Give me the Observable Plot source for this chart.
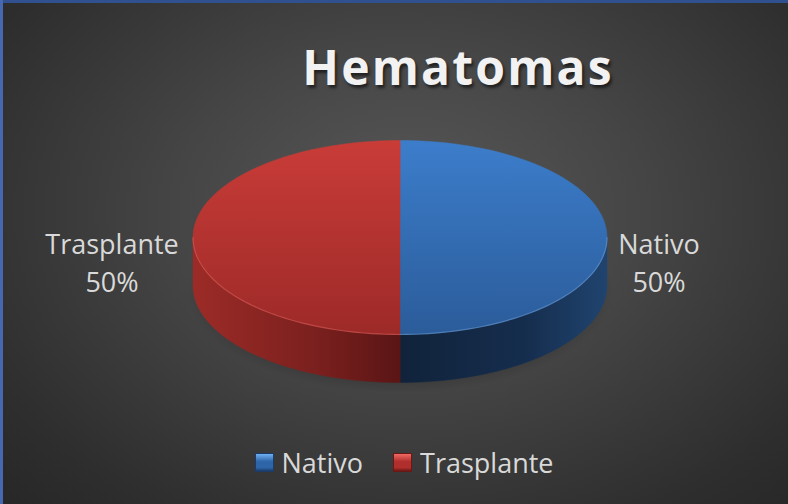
<!DOCTYPE html>
<html>
<head>
<meta charset="utf-8">
<script src="https://cdn.jsdelivr.net/npm/d3@7"></script>
<script src="https://cdn.jsdelivr.net/npm/@observablehq/plot@0.6"></script>
<style>
  html, body { margin: 0; padding: 0; background: #262626; }
  #wrap {
    position: relative; width: 788px; height: 504px; overflow: hidden;
    background: radial-gradient(ellipse 75% 85% at 52% 42%, #585858 0%, #454545 40%, #2e2e2e 80%, #262626 100%);
    font-family: "Open Sans", sans-serif;
  }
  #btop { position: absolute; left: 0; top: 0; width: 788px; height: 3px; background: #30508f; }
  #bleft { position: absolute; left: 0; top: 0; width: 3px; height: 504px; background: #4668b0; }
  #chart { position: absolute; left: 0; top: 0; }
  #title {
    position: absolute; left: 458px; top: 43px; transform: translateX(-50%);
    font-size: 48px; line-height: 48px; font-weight: 700; letter-spacing: 2.2px;
    color: #f2f2f2; white-space: nowrap;
    text-shadow: 2px 3px 3px rgba(0,0,0,0.55);
  }
  #legend {
    position: absolute; left: 0; width: 788px; top: 449px; height: 27px;
    display: flex; justify-content: center; align-items: center;
    font-size: 27px; line-height: 27px; color: #d9d9d9;
    padding-left: 20px; box-sizing: border-box;
  }
  .item { display: flex; align-items: center; margin: 0 15px; }
  .sw { width: 19px; height: 19px; margin-right: 8px; box-sizing: border-box; }
</style>
</head>
<body>
<div id="wrap">
  <div id="title"></div>
  <div id="chart"></div>
  <div id="legend"></div>
  <div id="btop"></div>
  <div id="bleft"></div>
</div>
<script>
// ---- data ----
const title = "Hematomas";
const categories = ["Nativo", "Trasplante"];
const values = [50, 50];
const topColors = [["#3c7dcb", "#2b5c9a"], ["#c93c38", "#9d2a28"]];
const sideColors = [["#11233b", "#152d4d", "#20446f"], ["#9c2b27", "#7a201e", "#5a1515"]];
const rimColors = ["#6fa3e0", "#e0605b"];
const swatchColors = [["#6eb0f2", "#2e64a8", "#1b3b68"], ["#f06a64", "#b02e2b", "#6a1716"]];

// ---- layout ----
const CX = 399.5, CY = 237, RX = 207, RY = 97, DEPTH = 48 / 97;

document.getElementById("title").textContent = title;

const total = d3.sum(values);
const arcs = d3.pie().sort(null).startAngle(0).endAngle(2 * Math.PI)(values)
  .map((a, i) => ({...a, name: categories[i], i, pct: d3.format(".0%")(a.value / total)}));

const STEPS = 180;
function arcPoints(a0, a1, dy = 0) {
  const n = Math.max(2, Math.ceil(STEPS * (Math.abs(a1 - a0) / (2 * Math.PI))));
  return d3.range(n + 1).map(k => {
    const a = a0 + (a1 - a0) * k / n;
    return {x: Math.sin(a), y: -Math.cos(a) + dy};
  });
}

const marks = [];
// gradient defs
marks.push(() => {
  const defs = d3.create("svg:defs");
  arcs.forEach(d => {
    const t = defs.append("linearGradient").attr("id", "top" + d.i).attr("x1", 0).attr("y1", 0).attr("x2", 0).attr("y2", 1);
    t.append("stop").attr("offset", "0%").attr("stop-color", topColors[d.i][0]);
    t.append("stop").attr("offset", "100%").attr("stop-color", topColors[d.i][1]);
    const s = defs.append("linearGradient").attr("id", "side" + d.i).attr("x1", 0).attr("y1", 0).attr("x2", 1).attr("y2", 0);
    s.append("stop").attr("offset", "0%").attr("stop-color", sideColors[d.i][0]);
    s.append("stop").attr("offset", "60%").attr("stop-color", sideColors[d.i][1]);
    s.append("stop").attr("offset", "100%").attr("stop-color", sideColors[d.i][2]);
  });
  const sh = defs.append("radialGradient").attr("id", "shadow");
  sh.append("stop").attr("offset", "70%").attr("stop-color", "rgba(0,0,0,0.35)");
  sh.append("stop").attr("offset", "100%").attr("stop-color", "rgba(0,0,0,0)");
  return defs.node();
});

// soft shadow below the pie
const shadowPts = arcPoints(0, 2 * Math.PI).map(p => ({x: p.x * 1.03, y: p.y * 1.05 + DEPTH + 0.06}));
marks.push(Plot.line(shadowPts, {x: "x", y: "y", fill: "url(#shadow)", stroke: "none", curve: "linear-closed"}));

// side walls (front half only)
arcs.forEach(d => {
  const lo = Math.max(d.startAngle, Math.PI / 2), hi = Math.min(d.endAngle, 3 * Math.PI / 2);
  if (lo >= hi) return;
  const pts = [...arcPoints(lo, hi), ...arcPoints(hi, lo, DEPTH)];
  marks.push(Plot.line(pts, {x: "x", y: "y", fill: `url(#side${d.i})`, stroke: `url(#side${d.i})`, strokeWidth: 0.5, curve: "linear-closed"}));
});
// top faces
arcs.forEach(d => {
  const pts = [{x: 0, y: 0}, ...arcPoints(d.startAngle, d.endAngle)];
  marks.push(Plot.line(pts, {x: "x", y: "y", fill: `url(#top${d.i})`, stroke: `url(#top${d.i})`, strokeWidth: 0.5, curve: "linear-closed"}));
});
// rim highlight on front edge
arcs.forEach(d => {
  const lo = Math.max(d.startAngle, Math.PI / 2), hi = Math.min(d.endAngle, 3 * Math.PI / 2);
  if (lo >= hi) return;
  marks.push(Plot.line(arcPoints(lo, hi), {x: "x", y: "y", stroke: rimColors[d.i], strokeWidth: 1.2, strokeOpacity: 0.55}));
});

// data labels
const labelOpts = {
  x: d => Math.sin((d.startAngle + d.endAngle) / 2),
  y: d => -Math.cos((d.startAngle + d.endAngle) / 2),
  text: d => `${d.name}\n${d.pct}`,
  fill: "#d9d9d9", fontSize: 27, fontFamily: "Open Sans", lineHeight: 1.44,
  textAnchor: "middle", lineAnchor: "middle", dy: 23
};
marks.push(Plot.text(arcs.filter(d => Math.sin((d.startAngle + d.endAngle) / 2) > 0), {...labelOpts, dx: 52}));
marks.push(Plot.text(arcs.filter(d => Math.sin((d.startAngle + d.endAngle) / 2) <= 0), {...labelOpts, dx: -81}));

const chart = Plot.plot({
  width: 788, height: 504, margin: 0,
  style: {background: "transparent", overflow: "visible"},
  x: {domain: [-1, 1], range: [CX - RX, CX + RX], axis: null},
  y: {domain: [-1, 1], range: [CY - RY, CY + RY], axis: null},
  marks
});
document.getElementById("chart").appendChild(chart);

// legend
const legend = document.getElementById("legend");
categories.forEach((c, i) => {
  const it = document.createElement("div"); it.className = "item";
  const sw = document.createElement("div"); sw.className = "sw";
  const [hi, mid, dark] = swatchColors[i];
  sw.style.background = `linear-gradient(to bottom, ${hi} 0%, ${mid} 45%, ${mid} 80%, ${dark} 100%)`;
  sw.style.border = `1px solid ${dark}`;
  const tx = document.createElement("span"); tx.textContent = c;
  it.appendChild(sw); it.appendChild(tx); legend.appendChild(it);
});
</script>
</body>
</html>
